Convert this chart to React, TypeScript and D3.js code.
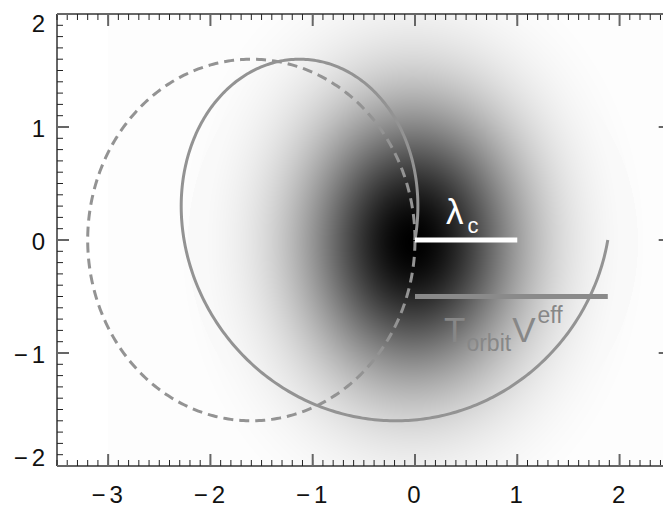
import React, { useEffect, useState } from 'react';
import * as d3 from 'd3';

// Canvas and plot frame
const WIDTH = 663;
const HEIGHT = 509;

// Axis domains and tick labels
const X_DOMAIN = [-3.5, 2.5];
const Y_DOMAIN = [-2, 2];
const X_TICKS = [-3, -2, -1, 0, 1, 2];
const Y_TICKS = [-2, -1, 0, 1, 2];
const MINOR_STEP = 0.1;

// Orbit parameters
const ORBIT_RADIUS = 1.6;
const DRIFT_SPEED = 0.3; // V^eff
const T_ORBIT = 2 * Math.PI;
const LAMBDA_C = 1.0;
const DRIFT_BAR_Y = -0.5;

// Density field behind the orbits
const FIELD_CENTER = [-0.02, -0.02];
const FIELD_SIGMA = [0.74, 0.84];
const FIELD_X_START = -3;
const HALO_RADIUS = [2.2, 2.0];

const FONT = '"Liberation Sans", Arial, Helvetica, sans-serif';
const CURVE = '#939393';

const x = d3.scaleLinear().domain(X_DOMAIN).range([57, 670.7]);
const y = d3.scaleLinear().domain(Y_DOMAIN).range([466, 14]);

function useFieldImage() {
  const [url, setUrl] = useState<string | null>(null);
  useEffect(() => {
    const x0 = Math.round(x(FIELD_X_START));
    const x1 = Math.round(x(X_DOMAIN[1]));
    const y0 = Math.round(y(Y_DOMAIN[1]));
    const y1 = Math.round(y(Y_DOMAIN[0]));
    const w = x1 - x0;
    const h = y1 - y0;
    const canvas = document.createElement('canvas');
    canvas.width = w;
    canvas.height = h;
    const ctx = canvas.getContext('2d');
    if (!ctx) return;
    const img = ctx.createImageData(w, h);
    for (let j = 0; j < h; j++) {
      const dy = y.invert(y0 + j + 0.5) - FIELD_CENTER[1];
      for (let i = 0; i < w; i++) {
        const dx = x.invert(x0 + i + 0.5) - FIELD_CENTER[0];
        const d = Math.exp(
          -(dx * dx) / (2 * FIELD_SIGMA[0] ** 2) - (dy * dy) / (2 * FIELD_SIGMA[1] ** 2)
        );
        let g = 255 * (1 - d);
        const rh = (dx / HALO_RADIUS[0]) ** 2 + (dy / HALO_RADIUS[1]) ** 2;
        g = Math.min(g, rh < 1 ? 249 : 253);
        const k = (j * w + i) * 4;
        const v = Math.round(g);
        img.data[k] = v;
        img.data[k + 1] = v;
        img.data[k + 2] = v;
        img.data[k + 3] = 255;
      }
    }
    ctx.putImageData(img, 0, 0);
    setUrl(canvas.toDataURL());
  }, []);
  return url;
}

// Tick label with a widely spaced minus sign
function TickLabel(props: { v: number; x: number; y: number; anchor: 'middle' | 'end' }) {
  const { v, anchor } = props;
  const neg = v < 0;
  return (
    <text x={props.x} y={props.y} textAnchor={anchor}>
      {neg ? '\u2212' : ''}
      <tspan dx={neg ? 4 : 0}>{Math.abs(v)}</tspan>
    </text>
  );
}

export default function App() {
  const field = useFieldImage();

  // Drifting orbit: circular motion of radius R plus uniform drift V^eff
  const ts = d3.range(0, T_ORBIT + 1e-9, T_ORBIT / 400);
  const orbit = ts.map((t) => [
    -ORBIT_RADIUS + ORBIT_RADIUS * Math.cos(t) + DRIFT_SPEED * t,
    ORBIT_RADIUS * Math.sin(t),
  ]);
  const circle = ts.map((t) => [
    -ORBIT_RADIUS + ORBIT_RADIUS * Math.cos(t),
    ORBIT_RADIUS * Math.sin(t),
  ]);
  const line = d3
    .line<number[]>()
    .x((d) => x(d[0]))
    .y((d) => y(d[1]));

  const left = x(X_DOMAIN[0]);
  const right = x(X_DOMAIN[1]);
  const top = y(Y_DOMAIN[1]);
  const bottom = y(Y_DOMAIN[0]);

  const xMinor = d3.range(X_DOMAIN[0], X_DOMAIN[1] + 1e-9, MINOR_STEP);
  const yMinor = d3.range(Y_DOMAIN[0], Y_DOMAIN[1] + 1e-9, MINOR_STEP);

  const yLabelBaseline = (v: number) => {
    if (v === Y_DOMAIN[1]) return y(v) + 18;
    if (v === Y_DOMAIN[0]) return y(v);
    return y(v) + 10;
  };

  const driftLength = DRIFT_SPEED * T_ORBIT;

  return (
    <svg
      width={WIDTH}
      height={HEIGHT}
      style={{ position: 'absolute', left: 0, top: 0, background: '#fff' }}
    >
      <defs>
        <clipPath id="plot">
          <rect x={left} y={top} width={right - left} height={bottom - top} />
        </clipPath>
      </defs>

      {field && (
        <image
          href={field}
          x={Math.round(x(FIELD_X_START))}
          y={Math.round(top)}
          width={Math.round(right) - Math.round(x(FIELD_X_START))}
          height={Math.round(bottom) - Math.round(top)}
          preserveAspectRatio="none"
        />
      )}

      <g clipPath="url(#plot)" fill="none">
        <path d={line(circle) || ''} stroke={CURVE} strokeWidth={3} strokeDasharray="10 6" />
        <path d={line(orbit) || ''} stroke={CURVE} strokeWidth={3} />
        <line
          x1={x(0)}
          x2={x(LAMBDA_C)}
          y1={y(0)}
          y2={y(0)}
          stroke="#ffffff"
          strokeWidth={5}
        />
        <line
          x1={x(0)}
          x2={x(driftLength)}
          y1={y(DRIFT_BAR_Y)}
          y2={y(DRIFT_BAR_Y)}
          stroke="#8a8a8a"
          strokeWidth={5}
        />
      </g>

      {/* annotations */}
      <text x={446} y={224} fill="#ffffff" fontFamily={FONT} fontSize={35}>
        λ
        <tspan fontSize={22} dy={9} dx={4}>
          c
        </tspan>
      </text>
      <text x={444} y={342} fill="#878787" fontFamily={FONT} fontSize={35}>
        T
        <tspan fontSize={23} dy={9} dx={1}>
          orbit
        </tspan>
        <tspan fontSize={35} dy={-9} dx={1}>
          V
        </tspan>
        <tspan fontSize={23} dy={-19} dx={2}>
          eff
        </tspan>
      </text>

      {/* frame */}
      <g stroke="#666" strokeWidth={2} fill="none">
        <line x1={left} x2={right} y1={top} y2={top} />
        <line x1={left} x2={right} y1={bottom} y2={bottom} />
        <line x1={left} x2={left} y1={top} y2={bottom} />
        <line x1={right} x2={right} y1={top} y2={bottom} />
      </g>

      {/* minor ticks */}
      <g stroke="#222" strokeWidth={1}>
        {xMinor.map((v, i) => (
          <g key={'xm' + i}>
            <line x1={x(v)} x2={x(v)} y1={bottom} y2={bottom - 6} />
            <line x1={x(v)} x2={x(v)} y1={top} y2={top + 6} />
          </g>
        ))}
        {yMinor.map((v, i) => (
          <g key={'ym' + i}>
            <line x1={left} x2={left + 6} y1={y(v)} y2={y(v)} />
            <line x1={right} x2={right - 6} y1={y(v)} y2={y(v)} />
          </g>
        ))}
      </g>

      {/* major ticks */}
      <g stroke="#666" strokeWidth={2}>
        {X_TICKS.map((v) => (
          <g key={'xM' + v}>
            <line x1={x(v)} x2={x(v)} y1={bottom} y2={bottom - 12} />
            <line x1={x(v)} x2={x(v)} y1={top} y2={top + 12} />
          </g>
        ))}
        {Y_TICKS.map((v) => (
          <g key={'yM' + v}>
            <line x1={left} x2={left + 12} y1={y(v)} y2={y(v)} />
            <line x1={right} x2={right - 12} y1={y(v)} y2={y(v)} />
          </g>
        ))}
      </g>

      {/* tick labels */}
      <g fontFamily={FONT} fontSize={24} fill="#111">
        {X_TICKS.map((v) => (
          <TickLabel key={'xl' + v} v={v} x={x(v) - 1} y={503} anchor="middle" />
        ))}
        {Y_TICKS.map((v) => (
          <TickLabel key={'yl' + v} v={v} x={45} y={yLabelBaseline(v)} anchor="end" />
        ))}
      </g>
    </svg>
  );
}
